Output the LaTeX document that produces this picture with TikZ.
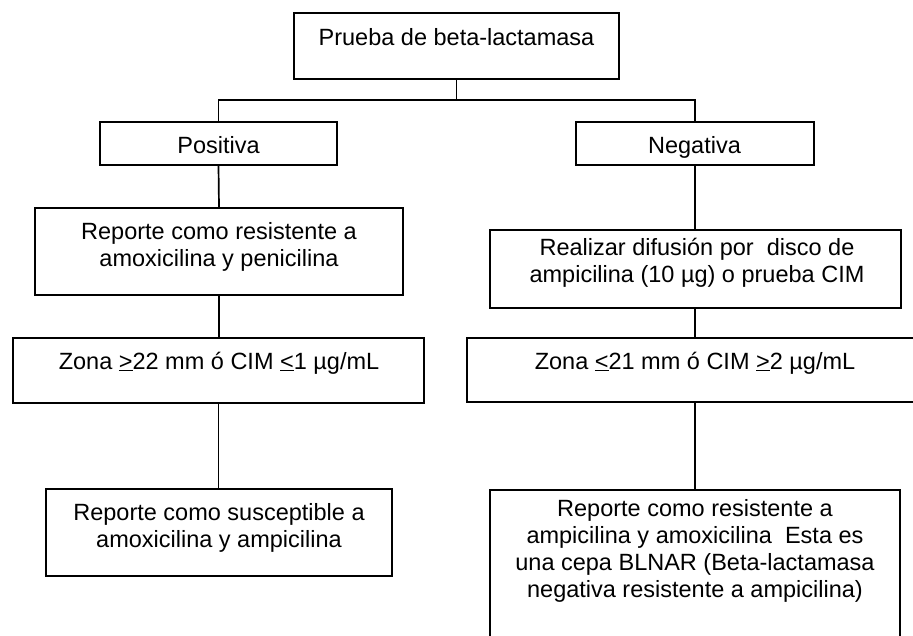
\documentclass[tikz,border=0pt]{standalone}
\usepackage{fontspec}
\setmainfont{Liberation Sans}
\begin{document}
\begin{tikzpicture}[x=1pt,y=-1pt,
  box/.style={draw, line width=1.7pt, rectangle, inner sep=0pt},
  txt/.style={anchor=base, align=center, inner sep=0pt, font=\fontsize{23.5}{27}\selectfont},
  conn/.style={line width=1.7pt}]
\useasboundingbox (0,0) rectangle (913,635);
\clip (0,0) rectangle (913,635);
% boxes
\node[box, minimum width=325pt, minimum height=66pt] (top) at (456.5,46) {};
\node[box, minimum width=237pt, minimum height=43pt] (pos) at (218.5,143.5) {};
\node[box, minimum width=238pt, minimum height=43pt] (neg) at (695,143.5) {};
\node[box, minimum width=368pt, minimum height=87pt] (res) at (219,251.5) {};
\node[box, minimum width=411pt, minimum height=65pt] (zonaL) at (218.5,370.5) {};
\node[box, minimum width=346pt, minimum height=87pt] (sus) at (219,532.5) {};
\node[box, minimum width=411pt, minimum height=78pt] (real) at (695.5,269) {};
\node[box, minimum width=493pt, minimum height=64pt] (zonaR) at (713.5,370) {};
\node[box, minimum width=410pt, minimum height=190pt] (blnar) at (695,585) {};
% texts (base anchor = baseline of the last line)
\node[txt] (ttop) at (456.5,45) {Prueba de beta-lactamasa};
\node[txt] (tpos) at (218.5,153) {Positiva};
\node[txt] (tneg) at (694.5,153) {Negativa};
\node[txt] (tres) at (219,266) {Reporte como resistente a\\amoxicilina y penicilina};
\node[txt] (tzonaL) at (219,369) {Zona \underline{>}22 mm ó CIM \underline{<}1 µg/mL};
\node[txt] (tsus) at (219,547) {Reporte como susceptible a\\amoxicilina y ampicilina};
\node[txt] (treal) at (697,282) {Realizar difusión por\ \ disco de\\ampicilina (10 µg) o prueba CIM};
\node[txt] (tzonaR) at (695,369) {Zona \underline{<}21 mm ó CIM \underline{>}2 µg/mL};
\node[txt] (tblnar) at (695,597) {Reporte como resistente a\\ampicilina y amoxicilina\ \ Esta es\\una cepa BLNAR (Beta-lactamasa\\negativa resistente a ampicilina)};
% connectors
\coordinate (j) at (456.5,100);
\draw[conn] (top.south) -- (j);
\draw[conn] (pos.north) |- (j) -| (neg.north);
\draw[conn] (pos.south) -- (res.north);
\draw[conn] (res.south) -- (res.south |- zonaL.north);
\draw[conn] (zonaL.south) -- (zonaL.south |- sus.north);
\draw[conn] (neg.south) -- (neg.south |- real.north);
\draw[conn] (neg.south |- real.south) -- (neg.south |- zonaR.north);
\draw[conn] (neg.south |- zonaR.south) -- (blnar.north);
\end{tikzpicture}
\end{document}
